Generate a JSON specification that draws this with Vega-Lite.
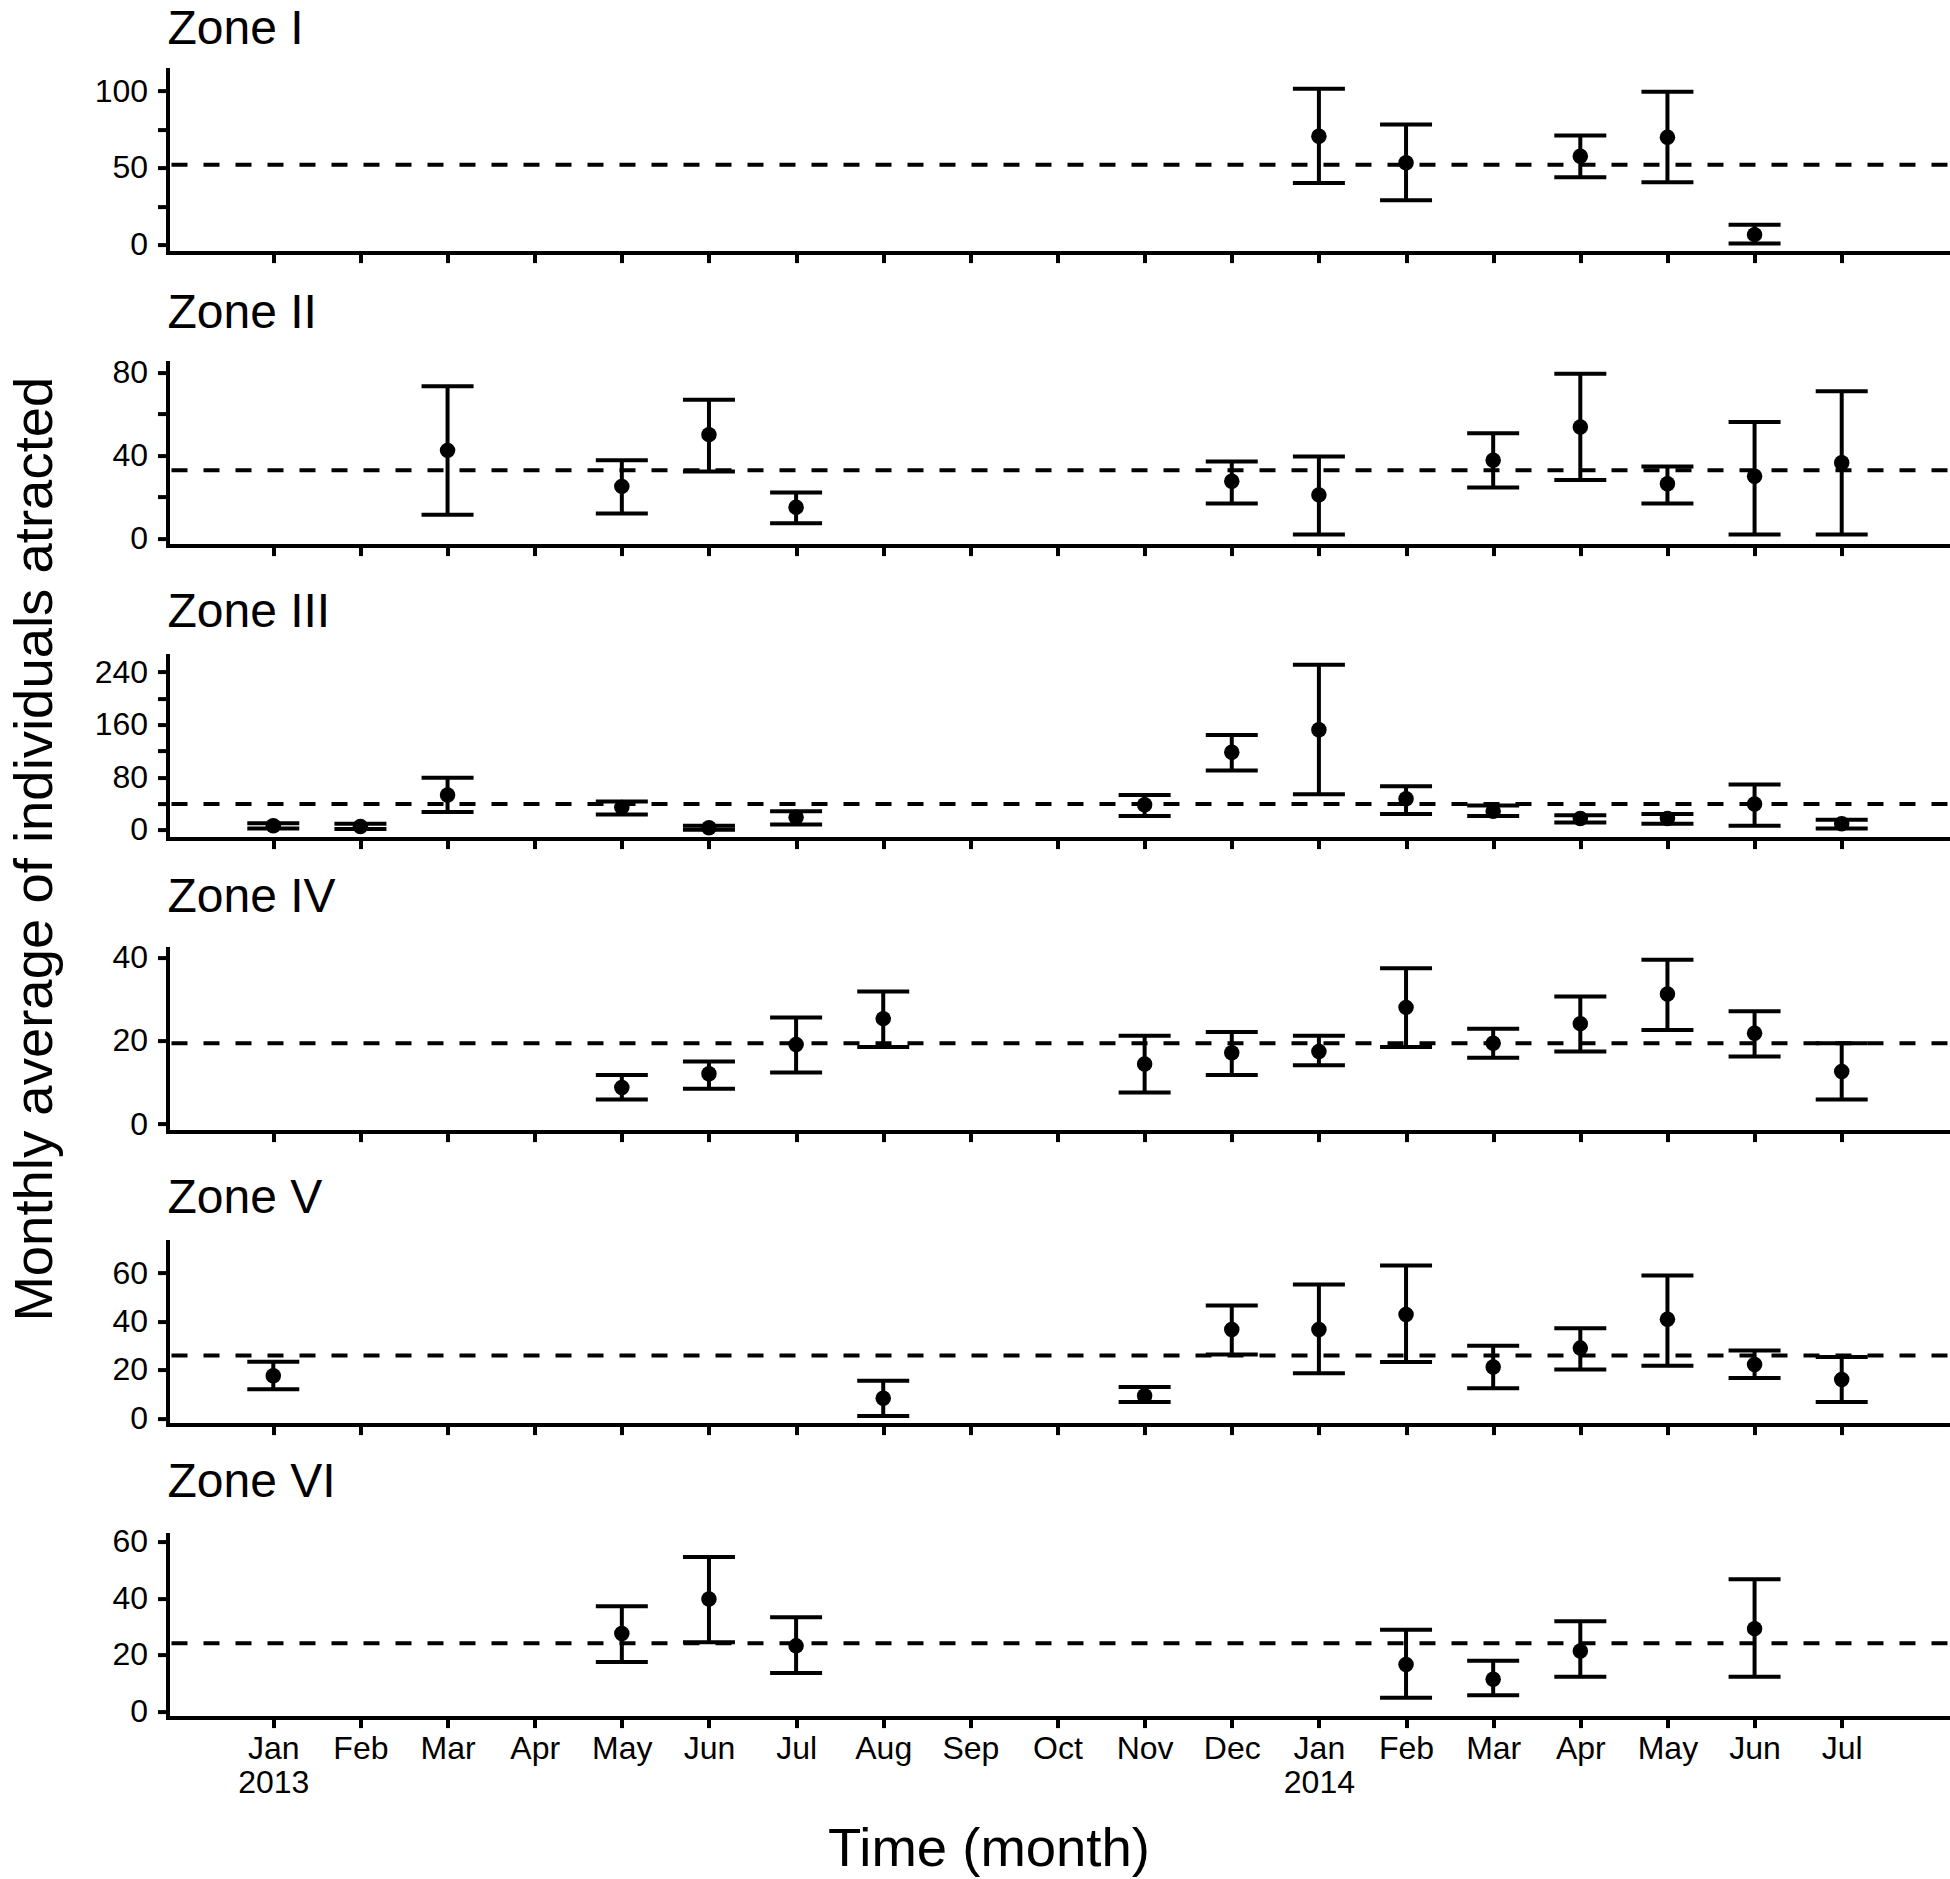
{
  "$schema": "https://vega.github.io/schema/vega-lite/v6.json",
  "background": "white",
  "padding": {"left": 6.5, "top": 5.6, "right": 0, "bottom": 0},
  "bounds": "flush",
  "spacing": 110,
  "datasets": {
    "obs": [
      {"zone": "Zone I", "month": "Jan 2014", "mean": 70.6, "lo": 40.2, "hi": 101.6},
      {"zone": "Zone I", "month": "Feb 2014", "mean": 53.3, "lo": 28.9, "hi": 78.3},
      {"zone": "Zone I", "month": "Apr 2014", "mean": 57.6, "lo": 43.9, "hi": 71.1},
      {"zone": "Zone I", "month": "May 2014", "mean": 70, "lo": 40.6, "hi": 99.6},
      {"zone": "Zone I", "month": "Jun 2014", "mean": 6.5, "lo": 0.8, "hi": 13},
      {"zone": "Zone II", "month": "Mar 2013", "mean": 42.4, "lo": 11.3, "hi": 73.4},
      {"zone": "Zone II", "month": "May 2013", "mean": 25, "lo": 11.9, "hi": 37.6},
      {"zone": "Zone II", "month": "Jun 2013", "mean": 50, "lo": 32.2, "hi": 66.9},
      {"zone": "Zone II", "month": "Jul 2013", "mean": 14.9, "lo": 7.2, "hi": 22.1},
      {"zone": "Zone II", "month": "Dec 2013", "mean": 27.5, "lo": 16.7, "hi": 37},
      {"zone": "Zone II", "month": "Jan 2014", "mean": 20.9, "lo": 1.8, "hi": 39.4},
      {"zone": "Zone II", "month": "Mar 2014", "mean": 37.6, "lo": 24.5, "hi": 50.7},
      {"zone": "Zone II", "month": "Apr 2014", "mean": 53.7, "lo": 28.1, "hi": 79.4},
      {"zone": "Zone II", "month": "May 2014", "mean": 26.3, "lo": 16.7, "hi": 34.6},
      {"zone": "Zone II", "month": "Jun 2014", "mean": 29.9, "lo": 1.8, "hi": 56.1},
      {"zone": "Zone II", "month": "Jul 2014", "mean": 36.4, "lo": 1.8, "hi": 71},
      {"zone": "Zone III", "month": "Jan 2013", "mean": 6, "lo": 2, "hi": 10},
      {"zone": "Zone III", "month": "Feb 2013", "mean": 5, "lo": 1, "hi": 9},
      {"zone": "Zone III", "month": "Mar 2013", "mean": 53, "lo": 27, "hi": 79},
      {"zone": "Zone III", "month": "May 2013", "mean": 34, "lo": 23, "hi": 43},
      {"zone": "Zone III", "month": "Jun 2013", "mean": 3, "lo": 0, "hi": 6},
      {"zone": "Zone III", "month": "Jul 2013", "mean": 19, "lo": 8, "hi": 28},
      {"zone": "Zone III", "month": "Nov 2013", "mean": 38, "lo": 21, "hi": 53},
      {"zone": "Zone III", "month": "Dec 2013", "mean": 118, "lo": 90, "hi": 144},
      {"zone": "Zone III", "month": "Jan 2014", "mean": 152, "lo": 54, "hi": 251},
      {"zone": "Zone III", "month": "Feb 2014", "mean": 47, "lo": 24, "hi": 66},
      {"zone": "Zone III", "month": "Mar 2014", "mean": 28, "lo": 21, "hi": 37},
      {"zone": "Zone III", "month": "Apr 2014", "mean": 17, "lo": 11, "hi": 22},
      {"zone": "Zone III", "month": "May 2014", "mean": 17, "lo": 9, "hi": 24},
      {"zone": "Zone III", "month": "Jun 2014", "mean": 39, "lo": 6, "hi": 69},
      {"zone": "Zone III", "month": "Jul 2014", "mean": 9, "lo": 2, "hi": 15},
      {"zone": "Zone IV", "month": "May 2013", "mean": 8.8, "lo": 5.9, "hi": 11.8},
      {"zone": "Zone IV", "month": "Jun 2013", "mean": 12.1, "lo": 8.5, "hi": 15},
      {"zone": "Zone IV", "month": "Jul 2013", "mean": 19.1, "lo": 12.4, "hi": 25.6},
      {"zone": "Zone IV", "month": "Aug 2013", "mean": 25.3, "lo": 18.5, "hi": 31.8},
      {"zone": "Zone IV", "month": "Nov 2013", "mean": 14.4, "lo": 7.6, "hi": 21.2},
      {"zone": "Zone IV", "month": "Dec 2013", "mean": 17.1, "lo": 11.8, "hi": 22.1},
      {"zone": "Zone IV", "month": "Jan 2014", "mean": 17.4, "lo": 14.1, "hi": 21.2},
      {"zone": "Zone IV", "month": "Feb 2014", "mean": 28, "lo": 18.5, "hi": 37.4},
      {"zone": "Zone IV", "month": "Mar 2014", "mean": 19.4, "lo": 15.9, "hi": 22.9},
      {"zone": "Zone IV", "month": "Apr 2014", "mean": 24.1, "lo": 17.4, "hi": 30.6},
      {"zone": "Zone IV", "month": "May 2014", "mean": 31.2, "lo": 22.6, "hi": 39.4},
      {"zone": "Zone IV", "month": "Jun 2014", "mean": 21.8, "lo": 16.2, "hi": 27.1},
      {"zone": "Zone IV", "month": "Jul 2014", "mean": 12.6, "lo": 5.9, "hi": 19.4},
      {"zone": "Zone V", "month": "Jan 2013", "mean": 17.6, "lo": 12, "hi": 23.4},
      {"zone": "Zone V", "month": "Aug 2013", "mean": 8.3, "lo": 1, "hi": 15.5},
      {"zone": "Zone V", "month": "Nov 2013", "mean": 9.3, "lo": 6.7, "hi": 12.9},
      {"zone": "Zone V", "month": "Dec 2013", "mean": 36.7, "lo": 26.4, "hi": 46.6},
      {"zone": "Zone V", "month": "Jan 2014", "mean": 36.7, "lo": 18.6, "hi": 55.3},
      {"zone": "Zone V", "month": "Feb 2014", "mean": 42.9, "lo": 23.3, "hi": 63.1},
      {"zone": "Zone V", "month": "Mar 2014", "mean": 21.2, "lo": 12.4, "hi": 30},
      {"zone": "Zone V", "month": "Apr 2014", "mean": 29, "lo": 20.2, "hi": 37.2},
      {"zone": "Zone V", "month": "May 2014", "mean": 40.9, "lo": 21.7, "hi": 59},
      {"zone": "Zone V", "month": "Jun 2014", "mean": 22.2, "lo": 16.6, "hi": 28},
      {"zone": "Zone V", "month": "Jul 2014", "mean": 16, "lo": 6.7, "hi": 25.3},
      {"zone": "Zone VI", "month": "May 2013", "mean": 27.6, "lo": 17.5, "hi": 37.2},
      {"zone": "Zone VI", "month": "Jun 2013", "mean": 39.8, "lo": 24.5, "hi": 54.7},
      {"zone": "Zone VI", "month": "Jul 2013", "mean": 23.2, "lo": 13.6, "hi": 33.3},
      {"zone": "Zone VI", "month": "Feb 2014", "mean": 16.6, "lo": 4.8, "hi": 28.9},
      {"zone": "Zone VI", "month": "Mar 2014", "mean": 11.4, "lo": 5.7, "hi": 17.9},
      {"zone": "Zone VI", "month": "Apr 2014", "mean": 21.4, "lo": 12.3, "hi": 31.9},
      {"zone": "Zone VI", "month": "Jun 2014", "mean": 29.3, "lo": 12.3, "hi": 46.8}
    ],
    "means": [
      {"zone": "Zone I", "avg": 52},
      {"zone": "Zone II", "avg": 32.8},
      {"zone": "Zone III", "avg": 39},
      {"zone": "Zone IV", "avg": 19.4},
      {"zone": "Zone V", "avg": 25.9},
      {"zone": "Zone VI", "avg": 24.1}
    ]
  },
  "vconcat": [
    {
      "title": {"text": "Zone I", "offset": 16}, "width": 1780, "height": 183,
      "layer": [
        {"data": {"name": "means"}, "transform": [{"filter": "datum.zone == 'Zone I'"}],
         "mark": {"type": "rule", "strokeDash": [16, 16], "strokeWidth": 4, "color": "black"},
         "encoding": {"y": {"field": "avg", "type": "quantitative", "scale": {"domain": [-5.2, 114], "nice": false, "zero": false}, "axis": {"title": "Monthly average of individuals atracted", "titleX": -132.5, "titleY": 779, "titleAngle": 270, "titleAlign": "center", "titleBaseline": "middle", "values": [0, 25, 50, 75, 100], "labelExpr": "datum.value % 50 == 0 ? datum.label : ''"}}}},
        {"data": {"name": "obs"}, "transform": [{"filter": "datum.zone == 'Zone I'"}],
         "mark": {"type": "rule", "strokeWidth": 4, "color": "black"},
         "encoding": {
           "x": {"field": "month", "type": "ordinal", "scale": {"type": "point", "padding": 0.214, "domain": ["Dec 2012","Jan 2013","Feb 2013","Mar 2013","Apr 2013","May 2013","Jun 2013","Jul 2013","Aug 2013","Sep 2013","Oct 2013","Nov 2013","Dec 2013","Jan 2014","Feb 2014","Mar 2014","Apr 2014","May 2014","Jun 2014","Jul 2014","Aug 2014"]}, "axis": {"title": null, "labels": false, "values": ["Jan 2013","Feb 2013","Mar 2013","Apr 2013","May 2013","Jun 2013","Jul 2013","Aug 2013","Sep 2013","Oct 2013","Nov 2013","Dec 2013","Jan 2014","Feb 2014","Mar 2014","Apr 2014","May 2014","Jun 2014","Jul 2014"]}},
           "y": {"field": "lo", "type": "quantitative", "scale": {"domain": [-5.2, 114], "nice": false, "zero": false}, "axis": {"title": "Monthly average of individuals atracted", "titleX": -132.5, "titleY": 779, "titleAngle": 270, "titleAlign": "center", "titleBaseline": "middle", "values": [0, 25, 50, 75, 100], "labelExpr": "datum.value % 50 == 0 ? datum.label : ''"}},
           "y2": {"field": "hi"}}},
        {"data": {"name": "obs"}, "transform": [{"filter": "datum.zone == 'Zone I'"}, {"fold": ["lo", "hi"], "as": ["bound", "val"]}],
         "mark": {"type": "tick", "orient": "horizontal", "size": 52, "thickness": 4, "color": "black", "opacity": 1},
         "encoding": {
           "x": {"field": "month", "type": "ordinal", "scale": {"type": "point", "padding": 0.214, "domain": ["Dec 2012","Jan 2013","Feb 2013","Mar 2013","Apr 2013","May 2013","Jun 2013","Jul 2013","Aug 2013","Sep 2013","Oct 2013","Nov 2013","Dec 2013","Jan 2014","Feb 2014","Mar 2014","Apr 2014","May 2014","Jun 2014","Jul 2014","Aug 2014"]}, "axis": {"title": null, "labels": false, "values": ["Jan 2013","Feb 2013","Mar 2013","Apr 2013","May 2013","Jun 2013","Jul 2013","Aug 2013","Sep 2013","Oct 2013","Nov 2013","Dec 2013","Jan 2014","Feb 2014","Mar 2014","Apr 2014","May 2014","Jun 2014","Jul 2014"]}},
           "y": {"field": "val", "type": "quantitative", "scale": {"domain": [-5.2, 114], "nice": false, "zero": false}, "axis": {"title": "Monthly average of individuals atracted", "titleX": -132.5, "titleY": 779, "titleAngle": 270, "titleAlign": "center", "titleBaseline": "middle", "values": [0, 25, 50, 75, 100], "labelExpr": "datum.value % 50 == 0 ? datum.label : ''"}}}},
        {"data": {"name": "obs"}, "transform": [{"filter": "datum.zone == 'Zone I'"}],
         "mark": {"type": "point", "filled": true, "size": 240, "color": "black", "opacity": 1},
         "encoding": {
           "x": {"field": "month", "type": "ordinal", "scale": {"type": "point", "padding": 0.214, "domain": ["Dec 2012","Jan 2013","Feb 2013","Mar 2013","Apr 2013","May 2013","Jun 2013","Jul 2013","Aug 2013","Sep 2013","Oct 2013","Nov 2013","Dec 2013","Jan 2014","Feb 2014","Mar 2014","Apr 2014","May 2014","Jun 2014","Jul 2014","Aug 2014"]}, "axis": {"title": null, "labels": false, "values": ["Jan 2013","Feb 2013","Mar 2013","Apr 2013","May 2013","Jun 2013","Jul 2013","Aug 2013","Sep 2013","Oct 2013","Nov 2013","Dec 2013","Jan 2014","Feb 2014","Mar 2014","Apr 2014","May 2014","Jun 2014","Jul 2014"]}},
           "y": {"field": "mean", "type": "quantitative", "scale": {"domain": [-5.2, 114], "nice": false, "zero": false}, "axis": {"title": "Monthly average of individuals atracted", "titleX": -132.5, "titleY": 779, "titleAngle": 270, "titleAlign": "center", "titleBaseline": "middle", "values": [0, 25, 50, 75, 100], "labelExpr": "datum.value % 50 == 0 ? datum.label : ''"}}}}
      ]
    },
    {
      "title": "Zone II", "width": 1780, "height": 183,
      "layer": [
        {"data": {"name": "means"}, "transform": [{"filter": "datum.zone == 'Zone II'"}],
         "mark": {"type": "rule", "strokeDash": [16, 16], "strokeWidth": 4, "color": "black"},
         "encoding": {"y": {"field": "avg", "type": "quantitative", "scale": {"domain": [-3.6, 84.8], "nice": false, "zero": false}, "axis": {"title": null, "values": [0, 20, 40, 60, 80], "labelExpr": "datum.value % 40 == 0 ? datum.label : ''"}}}},
        {"data": {"name": "obs"}, "transform": [{"filter": "datum.zone == 'Zone II'"}],
         "mark": {"type": "rule", "strokeWidth": 4, "color": "black"},
         "encoding": {
           "x": {"field": "month", "type": "ordinal", "scale": {"type": "point", "padding": 0.214, "domain": ["Dec 2012","Jan 2013","Feb 2013","Mar 2013","Apr 2013","May 2013","Jun 2013","Jul 2013","Aug 2013","Sep 2013","Oct 2013","Nov 2013","Dec 2013","Jan 2014","Feb 2014","Mar 2014","Apr 2014","May 2014","Jun 2014","Jul 2014","Aug 2014"]}, "axis": {"title": null, "labels": false, "values": ["Jan 2013","Feb 2013","Mar 2013","Apr 2013","May 2013","Jun 2013","Jul 2013","Aug 2013","Sep 2013","Oct 2013","Nov 2013","Dec 2013","Jan 2014","Feb 2014","Mar 2014","Apr 2014","May 2014","Jun 2014","Jul 2014"]}},
           "y": {"field": "lo", "type": "quantitative", "scale": {"domain": [-3.6, 84.8], "nice": false, "zero": false}, "axis": {"title": null, "values": [0, 20, 40, 60, 80], "labelExpr": "datum.value % 40 == 0 ? datum.label : ''"}},
           "y2": {"field": "hi"}}},
        {"data": {"name": "obs"}, "transform": [{"filter": "datum.zone == 'Zone II'"}, {"fold": ["lo", "hi"], "as": ["bound", "val"]}],
         "mark": {"type": "tick", "orient": "horizontal", "size": 52, "thickness": 4, "color": "black", "opacity": 1},
         "encoding": {
           "x": {"field": "month", "type": "ordinal", "scale": {"type": "point", "padding": 0.214, "domain": ["Dec 2012","Jan 2013","Feb 2013","Mar 2013","Apr 2013","May 2013","Jun 2013","Jul 2013","Aug 2013","Sep 2013","Oct 2013","Nov 2013","Dec 2013","Jan 2014","Feb 2014","Mar 2014","Apr 2014","May 2014","Jun 2014","Jul 2014","Aug 2014"]}, "axis": {"title": null, "labels": false, "values": ["Jan 2013","Feb 2013","Mar 2013","Apr 2013","May 2013","Jun 2013","Jul 2013","Aug 2013","Sep 2013","Oct 2013","Nov 2013","Dec 2013","Jan 2014","Feb 2014","Mar 2014","Apr 2014","May 2014","Jun 2014","Jul 2014"]}},
           "y": {"field": "val", "type": "quantitative", "scale": {"domain": [-3.6, 84.8], "nice": false, "zero": false}, "axis": {"title": null, "values": [0, 20, 40, 60, 80], "labelExpr": "datum.value % 40 == 0 ? datum.label : ''"}}}},
        {"data": {"name": "obs"}, "transform": [{"filter": "datum.zone == 'Zone II'"}],
         "mark": {"type": "point", "filled": true, "size": 240, "color": "black", "opacity": 1},
         "encoding": {
           "x": {"field": "month", "type": "ordinal", "scale": {"type": "point", "padding": 0.214, "domain": ["Dec 2012","Jan 2013","Feb 2013","Mar 2013","Apr 2013","May 2013","Jun 2013","Jul 2013","Aug 2013","Sep 2013","Oct 2013","Nov 2013","Dec 2013","Jan 2014","Feb 2014","Mar 2014","Apr 2014","May 2014","Jun 2014","Jul 2014","Aug 2014"]}, "axis": {"title": null, "labels": false, "values": ["Jan 2013","Feb 2013","Mar 2013","Apr 2013","May 2013","Jun 2013","Jul 2013","Aug 2013","Sep 2013","Oct 2013","Nov 2013","Dec 2013","Jan 2014","Feb 2014","Mar 2014","Apr 2014","May 2014","Jun 2014","Jul 2014"]}},
           "y": {"field": "mean", "type": "quantitative", "scale": {"domain": [-3.6, 84.8], "nice": false, "zero": false}, "axis": {"title": null, "values": [0, 20, 40, 60, 80], "labelExpr": "datum.value % 40 == 0 ? datum.label : ''"}}}}
      ]
    },
    {
      "title": "Zone III", "width": 1780, "height": 183,
      "layer": [
        {"data": {"name": "means"}, "transform": [{"filter": "datum.zone == 'Zone III'"}],
         "mark": {"type": "rule", "strokeDash": [16, 16], "strokeWidth": 4, "color": "black"},
         "encoding": {"y": {"field": "avg", "type": "quantitative", "scale": {"domain": [-13.5, 265], "nice": false, "zero": false}, "axis": {"title": null, "values": [0, 40, 80, 120, 160, 200, 240], "labelExpr": "datum.value % 80 == 0 ? datum.label : ''"}}}},
        {"data": {"name": "obs"}, "transform": [{"filter": "datum.zone == 'Zone III'"}],
         "mark": {"type": "rule", "strokeWidth": 4, "color": "black"},
         "encoding": {
           "x": {"field": "month", "type": "ordinal", "scale": {"type": "point", "padding": 0.214, "domain": ["Dec 2012","Jan 2013","Feb 2013","Mar 2013","Apr 2013","May 2013","Jun 2013","Jul 2013","Aug 2013","Sep 2013","Oct 2013","Nov 2013","Dec 2013","Jan 2014","Feb 2014","Mar 2014","Apr 2014","May 2014","Jun 2014","Jul 2014","Aug 2014"]}, "axis": {"title": null, "labels": false, "values": ["Jan 2013","Feb 2013","Mar 2013","Apr 2013","May 2013","Jun 2013","Jul 2013","Aug 2013","Sep 2013","Oct 2013","Nov 2013","Dec 2013","Jan 2014","Feb 2014","Mar 2014","Apr 2014","May 2014","Jun 2014","Jul 2014"]}},
           "y": {"field": "lo", "type": "quantitative", "scale": {"domain": [-13.5, 265], "nice": false, "zero": false}, "axis": {"title": null, "values": [0, 40, 80, 120, 160, 200, 240], "labelExpr": "datum.value % 80 == 0 ? datum.label : ''"}},
           "y2": {"field": "hi"}}},
        {"data": {"name": "obs"}, "transform": [{"filter": "datum.zone == 'Zone III'"}, {"fold": ["lo", "hi"], "as": ["bound", "val"]}],
         "mark": {"type": "tick", "orient": "horizontal", "size": 52, "thickness": 4, "color": "black", "opacity": 1},
         "encoding": {
           "x": {"field": "month", "type": "ordinal", "scale": {"type": "point", "padding": 0.214, "domain": ["Dec 2012","Jan 2013","Feb 2013","Mar 2013","Apr 2013","May 2013","Jun 2013","Jul 2013","Aug 2013","Sep 2013","Oct 2013","Nov 2013","Dec 2013","Jan 2014","Feb 2014","Mar 2014","Apr 2014","May 2014","Jun 2014","Jul 2014","Aug 2014"]}, "axis": {"title": null, "labels": false, "values": ["Jan 2013","Feb 2013","Mar 2013","Apr 2013","May 2013","Jun 2013","Jul 2013","Aug 2013","Sep 2013","Oct 2013","Nov 2013","Dec 2013","Jan 2014","Feb 2014","Mar 2014","Apr 2014","May 2014","Jun 2014","Jul 2014"]}},
           "y": {"field": "val", "type": "quantitative", "scale": {"domain": [-13.5, 265], "nice": false, "zero": false}, "axis": {"title": null, "values": [0, 40, 80, 120, 160, 200, 240], "labelExpr": "datum.value % 80 == 0 ? datum.label : ''"}}}},
        {"data": {"name": "obs"}, "transform": [{"filter": "datum.zone == 'Zone III'"}],
         "mark": {"type": "point", "filled": true, "size": 240, "color": "black", "opacity": 1},
         "encoding": {
           "x": {"field": "month", "type": "ordinal", "scale": {"type": "point", "padding": 0.214, "domain": ["Dec 2012","Jan 2013","Feb 2013","Mar 2013","Apr 2013","May 2013","Jun 2013","Jul 2013","Aug 2013","Sep 2013","Oct 2013","Nov 2013","Dec 2013","Jan 2014","Feb 2014","Mar 2014","Apr 2014","May 2014","Jun 2014","Jul 2014","Aug 2014"]}, "axis": {"title": null, "labels": false, "values": ["Jan 2013","Feb 2013","Mar 2013","Apr 2013","May 2013","Jun 2013","Jul 2013","Aug 2013","Sep 2013","Oct 2013","Nov 2013","Dec 2013","Jan 2014","Feb 2014","Mar 2014","Apr 2014","May 2014","Jun 2014","Jul 2014"]}},
           "y": {"field": "mean", "type": "quantitative", "scale": {"domain": [-13.5, 265], "nice": false, "zero": false}, "axis": {"title": null, "values": [0, 40, 80, 120, 160, 200, 240], "labelExpr": "datum.value % 80 == 0 ? datum.label : ''"}}}}
      ]
    },
    {
      "title": "Zone IV", "width": 1780, "height": 183,
      "layer": [
        {"data": {"name": "means"}, "transform": [{"filter": "datum.zone == 'Zone IV'"}],
         "mark": {"type": "rule", "strokeDash": [16, 16], "strokeWidth": 4, "color": "black"},
         "encoding": {"y": {"field": "avg", "type": "quantitative", "scale": {"domain": [-1.8, 42.1], "nice": false, "zero": false}, "axis": {"title": null, "values": [0, 20, 40]}}}},
        {"data": {"name": "obs"}, "transform": [{"filter": "datum.zone == 'Zone IV'"}],
         "mark": {"type": "rule", "strokeWidth": 4, "color": "black"},
         "encoding": {
           "x": {"field": "month", "type": "ordinal", "scale": {"type": "point", "padding": 0.214, "domain": ["Dec 2012","Jan 2013","Feb 2013","Mar 2013","Apr 2013","May 2013","Jun 2013","Jul 2013","Aug 2013","Sep 2013","Oct 2013","Nov 2013","Dec 2013","Jan 2014","Feb 2014","Mar 2014","Apr 2014","May 2014","Jun 2014","Jul 2014","Aug 2014"]}, "axis": {"title": null, "labels": false, "values": ["Jan 2013","Feb 2013","Mar 2013","Apr 2013","May 2013","Jun 2013","Jul 2013","Aug 2013","Sep 2013","Oct 2013","Nov 2013","Dec 2013","Jan 2014","Feb 2014","Mar 2014","Apr 2014","May 2014","Jun 2014","Jul 2014"]}},
           "y": {"field": "lo", "type": "quantitative", "scale": {"domain": [-1.8, 42.1], "nice": false, "zero": false}, "axis": {"title": null, "values": [0, 20, 40]}},
           "y2": {"field": "hi"}}},
        {"data": {"name": "obs"}, "transform": [{"filter": "datum.zone == 'Zone IV'"}, {"fold": ["lo", "hi"], "as": ["bound", "val"]}],
         "mark": {"type": "tick", "orient": "horizontal", "size": 52, "thickness": 4, "color": "black", "opacity": 1},
         "encoding": {
           "x": {"field": "month", "type": "ordinal", "scale": {"type": "point", "padding": 0.214, "domain": ["Dec 2012","Jan 2013","Feb 2013","Mar 2013","Apr 2013","May 2013","Jun 2013","Jul 2013","Aug 2013","Sep 2013","Oct 2013","Nov 2013","Dec 2013","Jan 2014","Feb 2014","Mar 2014","Apr 2014","May 2014","Jun 2014","Jul 2014","Aug 2014"]}, "axis": {"title": null, "labels": false, "values": ["Jan 2013","Feb 2013","Mar 2013","Apr 2013","May 2013","Jun 2013","Jul 2013","Aug 2013","Sep 2013","Oct 2013","Nov 2013","Dec 2013","Jan 2014","Feb 2014","Mar 2014","Apr 2014","May 2014","Jun 2014","Jul 2014"]}},
           "y": {"field": "val", "type": "quantitative", "scale": {"domain": [-1.8, 42.1], "nice": false, "zero": false}, "axis": {"title": null, "values": [0, 20, 40]}}}},
        {"data": {"name": "obs"}, "transform": [{"filter": "datum.zone == 'Zone IV'"}],
         "mark": {"type": "point", "filled": true, "size": 240, "color": "black", "opacity": 1},
         "encoding": {
           "x": {"field": "month", "type": "ordinal", "scale": {"type": "point", "padding": 0.214, "domain": ["Dec 2012","Jan 2013","Feb 2013","Mar 2013","Apr 2013","May 2013","Jun 2013","Jul 2013","Aug 2013","Sep 2013","Oct 2013","Nov 2013","Dec 2013","Jan 2014","Feb 2014","Mar 2014","Apr 2014","May 2014","Jun 2014","Jul 2014","Aug 2014"]}, "axis": {"title": null, "labels": false, "values": ["Jan 2013","Feb 2013","Mar 2013","Apr 2013","May 2013","Jun 2013","Jul 2013","Aug 2013","Sep 2013","Oct 2013","Nov 2013","Dec 2013","Jan 2014","Feb 2014","Mar 2014","Apr 2014","May 2014","Jun 2014","Jul 2014"]}},
           "y": {"field": "mean", "type": "quantitative", "scale": {"domain": [-1.8, 42.1], "nice": false, "zero": false}, "axis": {"title": null, "values": [0, 20, 40]}}}}
      ]
    },
    {
      "title": "Zone V", "width": 1780, "height": 183,
      "layer": [
        {"data": {"name": "means"}, "transform": [{"filter": "datum.zone == 'Zone V'"}],
         "mark": {"type": "rule", "strokeDash": [16, 16], "strokeWidth": 4, "color": "black"},
         "encoding": {"y": {"field": "avg", "type": "quantitative", "scale": {"domain": [-2.6, 73], "nice": false, "zero": false}, "axis": {"title": null, "values": [0, 20, 40, 60, 80], "labelExpr": "datum.value <= 60 ? datum.label : ''"}}}},
        {"data": {"name": "obs"}, "transform": [{"filter": "datum.zone == 'Zone V'"}],
         "mark": {"type": "rule", "strokeWidth": 4, "color": "black"},
         "encoding": {
           "x": {"field": "month", "type": "ordinal", "scale": {"type": "point", "padding": 0.214, "domain": ["Dec 2012","Jan 2013","Feb 2013","Mar 2013","Apr 2013","May 2013","Jun 2013","Jul 2013","Aug 2013","Sep 2013","Oct 2013","Nov 2013","Dec 2013","Jan 2014","Feb 2014","Mar 2014","Apr 2014","May 2014","Jun 2014","Jul 2014","Aug 2014"]}, "axis": {"title": null, "labels": false, "values": ["Jan 2013","Feb 2013","Mar 2013","Apr 2013","May 2013","Jun 2013","Jul 2013","Aug 2013","Sep 2013","Oct 2013","Nov 2013","Dec 2013","Jan 2014","Feb 2014","Mar 2014","Apr 2014","May 2014","Jun 2014","Jul 2014"]}},
           "y": {"field": "lo", "type": "quantitative", "scale": {"domain": [-2.6, 73], "nice": false, "zero": false}, "axis": {"title": null, "values": [0, 20, 40, 60, 80], "labelExpr": "datum.value <= 60 ? datum.label : ''"}},
           "y2": {"field": "hi"}}},
        {"data": {"name": "obs"}, "transform": [{"filter": "datum.zone == 'Zone V'"}, {"fold": ["lo", "hi"], "as": ["bound", "val"]}],
         "mark": {"type": "tick", "orient": "horizontal", "size": 52, "thickness": 4, "color": "black", "opacity": 1},
         "encoding": {
           "x": {"field": "month", "type": "ordinal", "scale": {"type": "point", "padding": 0.214, "domain": ["Dec 2012","Jan 2013","Feb 2013","Mar 2013","Apr 2013","May 2013","Jun 2013","Jul 2013","Aug 2013","Sep 2013","Oct 2013","Nov 2013","Dec 2013","Jan 2014","Feb 2014","Mar 2014","Apr 2014","May 2014","Jun 2014","Jul 2014","Aug 2014"]}, "axis": {"title": null, "labels": false, "values": ["Jan 2013","Feb 2013","Mar 2013","Apr 2013","May 2013","Jun 2013","Jul 2013","Aug 2013","Sep 2013","Oct 2013","Nov 2013","Dec 2013","Jan 2014","Feb 2014","Mar 2014","Apr 2014","May 2014","Jun 2014","Jul 2014"]}},
           "y": {"field": "val", "type": "quantitative", "scale": {"domain": [-2.6, 73], "nice": false, "zero": false}, "axis": {"title": null, "values": [0, 20, 40, 60, 80], "labelExpr": "datum.value <= 60 ? datum.label : ''"}}}},
        {"data": {"name": "obs"}, "transform": [{"filter": "datum.zone == 'Zone V'"}],
         "mark": {"type": "point", "filled": true, "size": 240, "color": "black", "opacity": 1},
         "encoding": {
           "x": {"field": "month", "type": "ordinal", "scale": {"type": "point", "padding": 0.214, "domain": ["Dec 2012","Jan 2013","Feb 2013","Mar 2013","Apr 2013","May 2013","Jun 2013","Jul 2013","Aug 2013","Sep 2013","Oct 2013","Nov 2013","Dec 2013","Jan 2014","Feb 2014","Mar 2014","Apr 2014","May 2014","Jun 2014","Jul 2014","Aug 2014"]}, "axis": {"title": null, "labels": false, "values": ["Jan 2013","Feb 2013","Mar 2013","Apr 2013","May 2013","Jun 2013","Jul 2013","Aug 2013","Sep 2013","Oct 2013","Nov 2013","Dec 2013","Jan 2014","Feb 2014","Mar 2014","Apr 2014","May 2014","Jun 2014","Jul 2014"]}},
           "y": {"field": "mean", "type": "quantitative", "scale": {"domain": [-2.6, 73], "nice": false, "zero": false}, "axis": {"title": null, "values": [0, 20, 40, 60, 80], "labelExpr": "datum.value <= 60 ? datum.label : ''"}}}}
      ]
    },
    {
      "title": "Zone VI", "width": 1780, "height": 183,
      "layer": [
        {"data": {"name": "means"}, "transform": [{"filter": "datum.zone == 'Zone VI'"}],
         "mark": {"type": "rule", "strokeDash": [16, 16], "strokeWidth": 4, "color": "black"},
         "encoding": {"y": {"field": "avg", "type": "quantitative", "scale": {"domain": [-2.2, 62.6], "nice": false, "zero": false}, "axis": {"title": null, "values": [0, 20, 40, 60]}}}},
        {"data": {"name": "obs"}, "transform": [{"filter": "datum.zone == 'Zone VI'"}],
         "mark": {"type": "rule", "strokeWidth": 4, "color": "black"},
         "encoding": {
           "x": {"field": "month", "type": "ordinal", "scale": {"type": "point", "padding": 0.214, "domain": ["Dec 2012","Jan 2013","Feb 2013","Mar 2013","Apr 2013","May 2013","Jun 2013","Jul 2013","Aug 2013","Sep 2013","Oct 2013","Nov 2013","Dec 2013","Jan 2014","Feb 2014","Mar 2014","Apr 2014","May 2014","Jun 2014","Jul 2014","Aug 2014"]}, "axis": {"title": "Time (month)", "titleX": 821, "titleY": 132, "titleAlign": "center", "titleBaseline": "middle", "labelAngle": 0, "labelLineHeight": 34, "values": ["Jan 2013","Feb 2013","Mar 2013","Apr 2013","May 2013","Jun 2013","Jul 2013","Aug 2013","Sep 2013","Oct 2013","Nov 2013","Dec 2013","Jan 2014","Feb 2014","Mar 2014","Apr 2014","May 2014","Jun 2014","Jul 2014"], "labelExpr": "slice(datum.value, 0, 3) == 'Jan' ? [slice(datum.value, 0, 3), slice(datum.value, 4)] : slice(datum.value, 0, 3)"}},
           "y": {"field": "lo", "type": "quantitative", "scale": {"domain": [-2.2, 62.6], "nice": false, "zero": false}, "axis": {"title": null, "values": [0, 20, 40, 60]}},
           "y2": {"field": "hi"}}},
        {"data": {"name": "obs"}, "transform": [{"filter": "datum.zone == 'Zone VI'"}, {"fold": ["lo", "hi"], "as": ["bound", "val"]}],
         "mark": {"type": "tick", "orient": "horizontal", "size": 52, "thickness": 4, "color": "black", "opacity": 1},
         "encoding": {
           "x": {"field": "month", "type": "ordinal", "scale": {"type": "point", "padding": 0.214, "domain": ["Dec 2012","Jan 2013","Feb 2013","Mar 2013","Apr 2013","May 2013","Jun 2013","Jul 2013","Aug 2013","Sep 2013","Oct 2013","Nov 2013","Dec 2013","Jan 2014","Feb 2014","Mar 2014","Apr 2014","May 2014","Jun 2014","Jul 2014","Aug 2014"]}, "axis": {"title": "Time (month)", "titleX": 821, "titleY": 132, "titleAlign": "center", "titleBaseline": "middle", "labelAngle": 0, "labelLineHeight": 34, "values": ["Jan 2013","Feb 2013","Mar 2013","Apr 2013","May 2013","Jun 2013","Jul 2013","Aug 2013","Sep 2013","Oct 2013","Nov 2013","Dec 2013","Jan 2014","Feb 2014","Mar 2014","Apr 2014","May 2014","Jun 2014","Jul 2014"], "labelExpr": "slice(datum.value, 0, 3) == 'Jan' ? [slice(datum.value, 0, 3), slice(datum.value, 4)] : slice(datum.value, 0, 3)"}},
           "y": {"field": "val", "type": "quantitative", "scale": {"domain": [-2.2, 62.6], "nice": false, "zero": false}, "axis": {"title": null, "values": [0, 20, 40, 60]}}}},
        {"data": {"name": "obs"}, "transform": [{"filter": "datum.zone == 'Zone VI'"}],
         "mark": {"type": "point", "filled": true, "size": 240, "color": "black", "opacity": 1},
         "encoding": {
           "x": {"field": "month", "type": "ordinal", "scale": {"type": "point", "padding": 0.214, "domain": ["Dec 2012","Jan 2013","Feb 2013","Mar 2013","Apr 2013","May 2013","Jun 2013","Jul 2013","Aug 2013","Sep 2013","Oct 2013","Nov 2013","Dec 2013","Jan 2014","Feb 2014","Mar 2014","Apr 2014","May 2014","Jun 2014","Jul 2014","Aug 2014"]}, "axis": {"title": "Time (month)", "titleX": 821, "titleY": 132, "titleAlign": "center", "titleBaseline": "middle", "labelAngle": 0, "labelLineHeight": 34, "values": ["Jan 2013","Feb 2013","Mar 2013","Apr 2013","May 2013","Jun 2013","Jul 2013","Aug 2013","Sep 2013","Oct 2013","Nov 2013","Dec 2013","Jan 2014","Feb 2014","Mar 2014","Apr 2014","May 2014","Jun 2014","Jul 2014"], "labelExpr": "slice(datum.value, 0, 3) == 'Jan' ? [slice(datum.value, 0, 3), slice(datum.value, 4)] : slice(datum.value, 0, 3)"}},
           "y": {"field": "mean", "type": "quantitative", "scale": {"domain": [-2.2, 62.6], "nice": false, "zero": false}, "axis": {"title": null, "values": [0, 20, 40, 60]}}}}
      ]
    }
  ],
  "resolve": {"scale": {"y": "independent"}},
  "config": {
    "font": "Liberation Sans",
    "view": {"stroke": null},
    "axis": {
      "domainColor": "black", "domainWidth": 4, "domainCap": "square",
      "tickColor": "black", "tickWidth": 4, "tickSize": 10,
      "labelFont": "Liberation Sans", "labelFontSize": 32, "labelColor": "black", "labelPadding": 6,
      "grid": false,
      "titleFont": "Liberation Sans", "titleFontSize": 54.5, "titleFontWeight": "normal", "titleColor": "black"
    },
    "axisY": {"labelPadding": 10},
    "title": {"font": "Liberation Sans", "fontSize": 48, "fontWeight": "normal", "color": "black", "anchor": "start", "frame": "group", "baseline": "alphabetic", "offset": 19}
  }
}
